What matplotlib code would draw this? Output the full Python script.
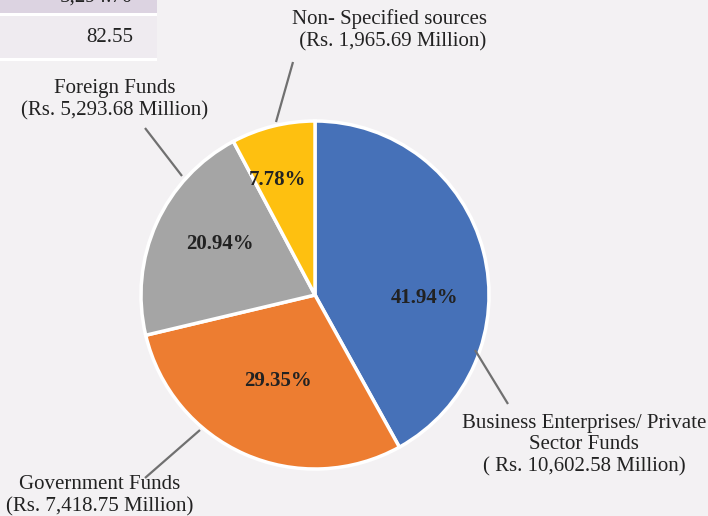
import matplotlib
matplotlib.use("Agg")
import matplotlib.pyplot as plt
from matplotlib.patches import Rectangle

categories = ["Business Enterprises/ Private\nSector Funds\n( Rs. 10,602.58 Million)",
              "Government Funds\n(Rs. 7,418.75 Million)",
              "Foreign Funds\n(Rs. 5,293.68 Million)",
              "Non- Specified sources\n (Rs. 1,965.69 Million)"]
values = [10602.58, 7418.75, 5293.68, 1965.69]
pct_labels = ["41.94%", "29.35%", "20.94%", "7.78%"]
colors = ["#4671B8", "#ED7D31", "#A5A5A5", "#FEC010"]

W, H = 708, 516
fig = plt.figure(figsize=(W / 100, H / 100), dpi=100)
fig.patch.set_facecolor("#F3F1F3")
ax = fig.add_axes([0, 0, 1, 1])
ax.set_xlim(0, W)
ax.set_ylim(0, H)
ax.set_aspect("equal")
ax.axis("off")

def Y(py):
    return H - py

# table fragment at top-left
ax.add_patch(Rectangle((0, Y(13)), 157, 13, facecolor="#DCD3E1", edgecolor="none"))
ax.add_patch(Rectangle((0, Y(16)), 157, 3, facecolor="white", edgecolor="none"))
ax.add_patch(Rectangle((0, Y(58)), 157, 42, facecolor="#EFEBF0", edgecolor="none"))
ax.add_patch(Rectangle((0, Y(61)), 157, 3, facecolor="white", edgecolor="none"))
ax.text(133, Y(-3), "5,294.70", ha="right", va="center", fontsize=15,
        family="Liberation Serif", color="#222222")
ax.text(133, Y(38), "82.55", ha="right", va="center", fontsize=15,
        family="Liberation Serif", color="#222222")

cx, cy, r = 315, Y(295), 174
wedges, _ = ax.pie(values, colors=colors, startangle=90, counterclock=False,
                   center=(cx, cy), radius=r, frame=True,
                   wedgeprops=dict(edgecolor="white", linewidth=2.5))
ax.set_xlim(0, W)
ax.set_ylim(0, H)
ax.axis("off")

serif = "Liberation Serif"
pct_pos = [(425, 298), (278, 381), (220, 244), (277, 180)]
for (px, py), t in zip(pct_pos, pct_labels):
    ax.text(px, Y(py), t, ha="center", va="center", fontsize=15,
            fontweight="bold", family=serif, color="#222222")

label_pos = [(584, 445), (100, 496), (115, 100), (390, 30)]
for (px, py), t in zip(label_pos, categories):
    ax.text(px, Y(py), t, ha="center", va="center", fontsize=15,
            family=serif, color="#222222", linespacing=1.2)

leaders = [((475, 350), (508, 404)), ((200, 430), (145, 478)),
           ((182, 176), (145, 128)), ((276, 122), (293, 62))]
for (x1, y1), (x2, y2) in leaders:
    ax.plot([x1, x2], [Y(y1), Y(y2)], color="#707070", linewidth=1.6,
            solid_capstyle="butt")

fig.savefig("out.png", dpi=100, facecolor=fig.get_facecolor())
